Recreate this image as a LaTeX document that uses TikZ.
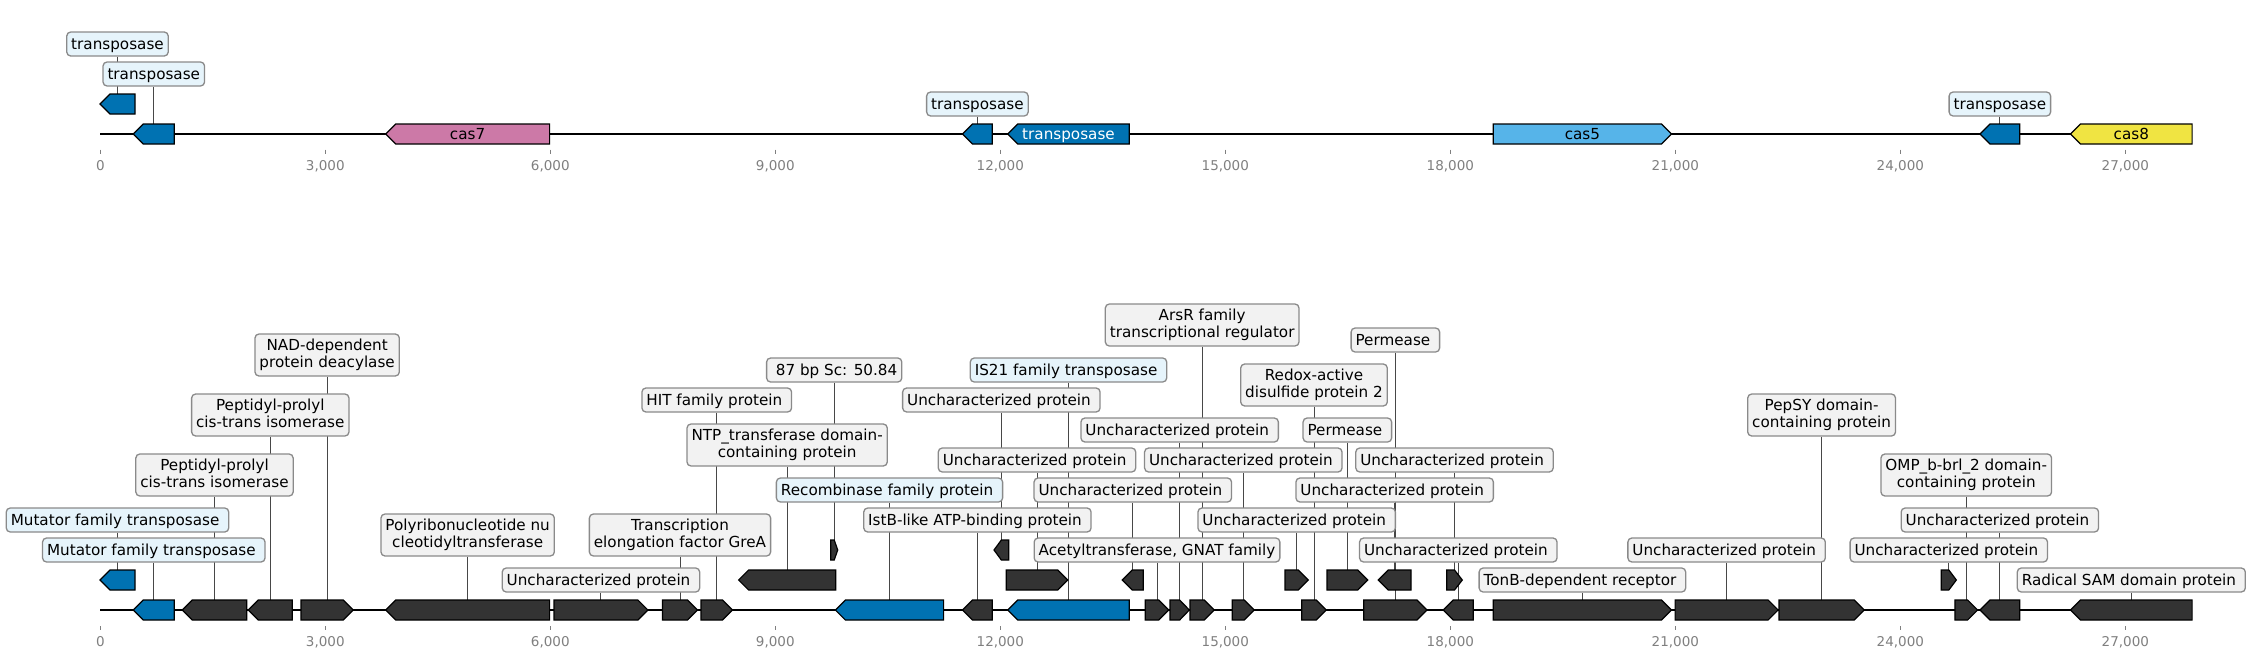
\documentclass[tikz,border=0pt]{standalone}
\usepackage{fontspec}
\setmainfont{DejaVu Sans}
\pgfdeclarelayer{bg}
\pgfsetlayers{bg,main}
\definecolor{tblue}{HTML}{0072B2}
\definecolor{cpink}{HTML}{CC79A7}
\definecolor{csky}{HTML}{56B4E9}
\definecolor{cyell}{HTML}{F0E442}
\definecolor{gdark}{HTML}{333333}
\definecolor{labgray}{HTML}{F2F2F2}
\definecolor{labblue}{HTML}{E6F4FB}
\definecolor{labedge}{HTML}{8A8A8A}
\definecolor{tickgray}{HTML}{7F7F7F}
\newcommand\labfont{\fontsize{15.2pt}{17.5pt}\selectfont}
\newcommand\tickfont{\fontsize{13.5pt}{16pt}\selectfont}
\newcommand\tsp{\kern0.318em}
\tikzset{
  genebox/.style={draw=black, line width=1.2pt, line join=miter},
  labbase/.style={draw=labedge, line width=1.3pt, rounded corners=4pt, fill=labgray,
    font=\labfont, inner xsep=4.5pt, inner ysep=1pt},
  lab/.style={labbase, text height=12pt, text depth=1pt, minimum height=24pt},
  labtwo/.style={labbase, align=center, minimum height=42pt},
  bluelab/.style={fill=labblue},
  leader/.style={draw=black!72, line width=1pt},
  axisline/.style={line width=2.5pt, black},
  tickmark/.style={draw=tickgray, line width=1pt},
  ticklab/.style={font=\tickfont, text=tickgray, anchor=base, inner sep=0pt},
  genetext/.style={font=\labfont, inner sep=0pt, text height=12pt, text depth=1pt}
}
% right-pointing gene: name, x1, x2, y centre, fill
\newcommand\geneR[5]{%
  \pgfmathsetmacro\gh{min(10,(#3-#2)/2)}%
  \draw[genebox,fill=#5] (#2,#4-10) -- ({#3-\gh},#4-10) -- (#3,#4) -- ({#3-\gh},#4+10) -- (#2,#4+10) -- cycle;%
  \coordinate (#1) at ({(#2+#3)/2},#4-10);}
% left-pointing gene
\newcommand\geneL[5]{%
  \pgfmathsetmacro\gh{min(10,(#3-#2)/2)}%
  \draw[genebox,fill=#5] (#3,#4-10) -- ({#2+\gh},#4-10) -- (#2,#4) -- ({#2+\gh},#4+10) -- (#3,#4+10) -- cycle;%
  \coordinate (#1) at ({(#2+#3)/2},#4-10);}
% label: [style] name, gene, y, text
\newcommand\glab[5][lab]{%
  \node[#1] (#2) at (#3 |- 0,#4) {#5};%
  \begin{pgfonlayer}{bg}\draw[leader] (#3 |- #2.south) -- (#3);\end{pgfonlayer}}
\begin{document}
\begin{tikzpicture}[x=1pt,y=-1pt]
\useasboundingbox (0,0) rectangle (2251,659);
% axes
\draw[axisline] (100.3,134) -- (2192.3,134);
\draw[axisline] (100.3,610) -- (2192.3,610);
\foreach \k/\t in {0/0,1/{3,000},2/{6,000},3/{9,000},4/{12,000},5/{15,000},6/{18,000},7/{21,000},8/{24,000},9/{27,000}}{
  \draw[tickmark] (100.3+225*\k,149.5) -- (100.3+225*\k,153.5);
  \node[ticklab] (ta\k) at (100.3+225*\k,170.5) {\t};
  \draw[tickmark] (100.3+225*\k,626) -- (100.3+225*\k,630);
  \node[ticklab] (tb\k) at (100.3+225*\k,646.5) {\t};
}
% ---------------- top track ----------------
\geneL{T1}{100}{135}{104}{tblue}
\geneL{T2}{133.3}{174.3}{134}{tblue}
\geneL{T3}{385.7}{549.6}{134}{cpink}
\geneL{T4}{962.5}{992.3}{134}{tblue}
\geneL{T5}{1007.7}{1129.3}{134}{tblue}
\geneR{T6}{1493.3}{1671.5}{134}{csky}
\geneL{T7}{1979.9}{2019.8}{134}{tblue}
\geneL{T8}{2070.5}{2192.1}{134}{cyell}
\node[genetext] (tx7) at (467.6,134) {cas7};
\node[genetext,text=white] (txtr) at (1068.5,134) {transposase};
\node[genetext] (tx5) at (1582.4,134) {cas5};
\node[genetext] (tx8) at (2131.3,134) {cas8};
\glab[lab,bluelab]{TL1}{T1}{44}{transposase}
\glab[lab,bluelab]{TL2}{T2}{74}{transposase}
\glab[lab,bluelab]{TL3}{T4}{104}{transposase}
\glab[lab,bluelab]{TL4}{T7}{104}{transposase}
% ---------------- bottom track ----------------
% main row
\geneL{B1}{133.3}{174.3}{610}{tblue}
\geneL{B2}{182.3}{246.7}{610}{gdark}
\geneL{B3}{248.3}{292.3}{610}{gdark}
\geneR{B4}{301}{353.3}{610}{gdark}
\geneL{B5}{385.7}{549.6}{610}{gdark}
\geneR{B6}{554}{647.9}{610}{gdark}
\geneR{B7}{662.5}{697.5}{610}{gdark}
\geneR{B8}{701}{732.5}{610}{gdark}
\geneL{B9}{835.4}{943.6}{610}{tblue}
\geneL{B10}{962.5}{992.3}{610}{gdark}
\geneL{B11}{1007.7}{1129.3}{610}{tblue}
\geneR{B12}{1145.3}{1168.7}{610}{gdark}
\geneR{B13}{1170}{1189.3}{610}{gdark}
\geneR{B14}{1190}{1214.3}{610}{gdark}
\geneR{B15}{1232.3}{1254.3}{610}{gdark}
\geneR{B16}{1301.7}{1326.3}{610}{gdark}
\geneR{B17}{1363.7}{1427}{610}{gdark}
\geneL{B18}{1443.3}{1473.3}{610}{gdark}
\geneR{B19}{1493.3}{1671.5}{610}{gdark}
\geneR{B20}{1675.1}{1778.1}{610}{gdark}
\geneR{B21}{1779}{1864.2}{610}{gdark}
\geneR{B22}{1954.9}{1977.6}{610}{gdark}
\geneL{B23}{1979.9}{2019.8}{610}{gdark}
\geneL{B24}{2070.5}{2192.1}{610}{gdark}
% second row
\geneL{R1}{100}{135}{580}{tblue}
\geneL{R2}{738.6}{835.7}{580}{gdark}
\geneR{R3}{1006.3}{1067.7}{580}{gdark}
\geneL{R4}{1122.3}{1143.3}{580}{gdark}
\geneR{R5}{1285}{1308.3}{580}{gdark}
\geneR{R6}{1327}{1367.7}{580}{gdark}
\geneL{R7}{1378.3}{1411}{580}{gdark}
\geneR{R8}{1446.7}{1462.3}{580}{gdark}
\geneR{R9}{1941.3}{1956.3}{580}{gdark}
% third row
\geneR{Q1}{830.7}{837.7}{550}{gdark}
\geneL{Q2}{994}{1008.7}{550}{gdark}
% labels
\glab[lab,bluelab]{L1}{R1}{520}{Mutator family transposase\tsp}
\glab[lab,bluelab]{L2}{B1}{550}{Mutator family transposase\tsp}
\glab[labtwo]{L3}{B2}{475}{\vphantom{Ap}Peptidyl-prolyl\\cis-trans isomerase\vphantom{Ap}}
\glab[labtwo]{L4}{B3}{415}{\vphantom{Ap}Peptidyl-prolyl\\cis-trans isomerase\vphantom{Ap}}
\glab[labtwo]{L5}{B4}{355}{\vphantom{Ap}NAD-dependent\\protein deacylase\vphantom{Ap}}
\glab[labtwo]{L6}{B5}{535}{\vphantom{Ap}Polyribonucleotide nu\\cleotidyltransferase\vphantom{Ap}}
\glab{L7}{B6}{580}{Uncharacterized protein\tsp}
\glab[labtwo]{L8}{B7}{535}{\vphantom{Ap}Transcription\\elongation factor GreA\vphantom{Ap}}
\glab{L9}{B8}{400}{HIT family protein\tsp}
\glab[labtwo]{L10}{R2}{445}{\vphantom{Ap}NTP\_transferase domain-\\containing protein\vphantom{Ap}}
\glab{L11}{Q1}{370}{\tsp 87 bp Sc: 50.84}
\glab[lab,bluelab]{L12}{B9}{490}{Recombinase family protein\tsp}
\glab{L13}{B10}{520}{IstB-like ATP-binding protein\tsp}
\glab{L14}{Q2}{400}{Uncharacterized protein\tsp}
\glab{L15}{R3}{460}{Uncharacterized protein\tsp}
\glab[lab,bluelab]{L16}{B11}{370}{IS21 family transposase\tsp}
\glab{L17}{R4}{490}{Uncharacterized protein\tsp}
\glab{L18}{B12}{550}{Acetyltransferase, GNAT family}
\glab{L19}{B13}{430}{Uncharacterized protein\tsp}
\glab[labtwo]{L20}{B14}{325}{\vphantom{Ap}ArsR family\\transcriptional regulator\vphantom{Ap}}
\glab{L21}{B15}{460}{Uncharacterized protein\tsp}
\glab{L22}{R5}{520}{Uncharacterized protein\tsp}
\glab[labtwo]{L23}{B16}{385}{\vphantom{Ap}Redox-active\\disulfide protein 2\vphantom{Ap}}
\glab{L24}{R6}{430}{Permease\tsp}
\glab{L25}{B17}{340}{Permease\tsp}
\glab{L26}{R7}{490}{Uncharacterized protein\tsp}
\glab{L27}{R8}{460}{Uncharacterized protein\tsp}
\glab{L28}{B18}{550}{Uncharacterized protein\tsp}
\glab{L29}{B19}{580}{TonB-dependent receptor\tsp}
\glab{L30}{B20}{550}{Uncharacterized protein\tsp}
\glab[labtwo]{L31}{B21}{415}{\vphantom{Ap}PepSY domain-\\containing protein\vphantom{Ap}}
\glab{L32}{R9}{550}{Uncharacterized protein\tsp}
\glab[labtwo]{L33}{B22}{475}{\vphantom{Ap}OMP\_b-brl\_2 domain-\\containing protein\vphantom{Ap}}
\glab{L34}{B23}{520}{Uncharacterized protein\tsp}
\glab{L35}{B24}{580}{Radical SAM domain protein\tsp}
\end{tikzpicture}
\end{document}
